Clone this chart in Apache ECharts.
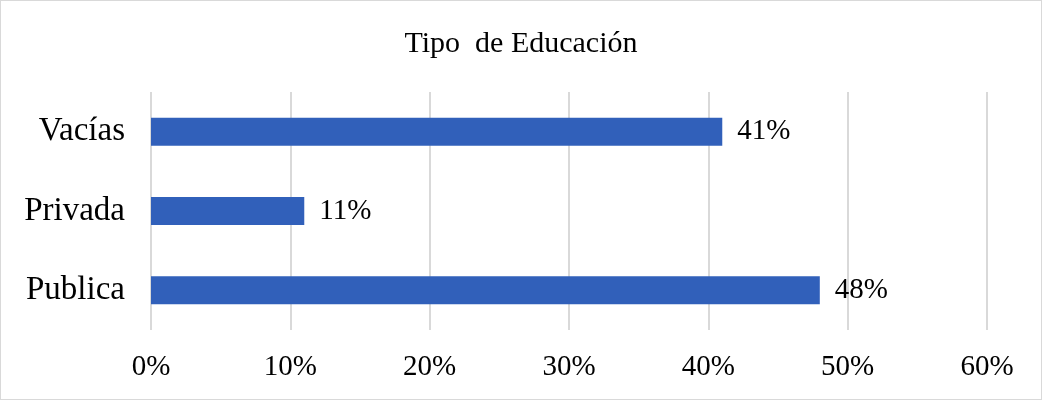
<!DOCTYPE html>
<html>
<head>
<meta charset="utf-8">
<script src="https://cdn.jsdelivr.net/npm/echarts@6/dist/echarts.min.js"></script>
<style>
  html, body { margin: 0; padding: 0; background: #fff; }
  #chart { width: 1040px; height: 398px; border: 1px solid #d9d9d9; }
</style>
</head>
<body>
<div id="chart"></div>
<script>
// categorías de abajo hacia arriba
const categories = ['Publica', 'Privada', 'Vacías']
const values = [48, 11, 41]
const xTicks = [0, 10, 20, 30, 40, 50, 60]

const font = '"Liberation Serif", "Times New Roman", serif'
const chart = echarts.init(document.getElementById('chart'))

chart.setOption({
  animation: false,
  title: {
    text: 'Tipo  de Educación',
    left: 'center',
    top: 23,
    textStyle: { fontFamily: font, fontSize: 30, fontWeight: 'normal', color: '#000' }
  },
  grid: { left: 150, right: 54, top: 91, bottom: 69 },
  xAxis: {
    type: 'value',
    min: xTicks[0],
    max: xTicks[xTicks.length - 1],
    interval: 10,
    axisLine: { show: false },
    axisTick: { show: false },
    splitLine: { lineStyle: { color: '#d9d9d9', width: 2 } },
    axisLabel: {
      formatter: v => v + '%',
      margin: 23,
      fontFamily: font,
      fontSize: 29,
      color: '#000'
    }
  },
  yAxis: {
    type: 'category',
    data: categories,
    axisLine: { show: false },
    axisTick: { show: false },
    axisLabel: { margin: 26, fontFamily: font, fontSize: 33, color: '#000' }
  },
  series: [
    {
      type: 'bar',
      data: values,
      barWidth: 28,
      itemStyle: { color: '#3160BA' },
      label: {
        show: true,
        position: 'right',
        distance: 15,
        formatter: p => p.value + '%',
        fontFamily: font,
        fontSize: 29,
        color: '#000'
      }
    }
  ]
})
</script>
</body>
</html>
